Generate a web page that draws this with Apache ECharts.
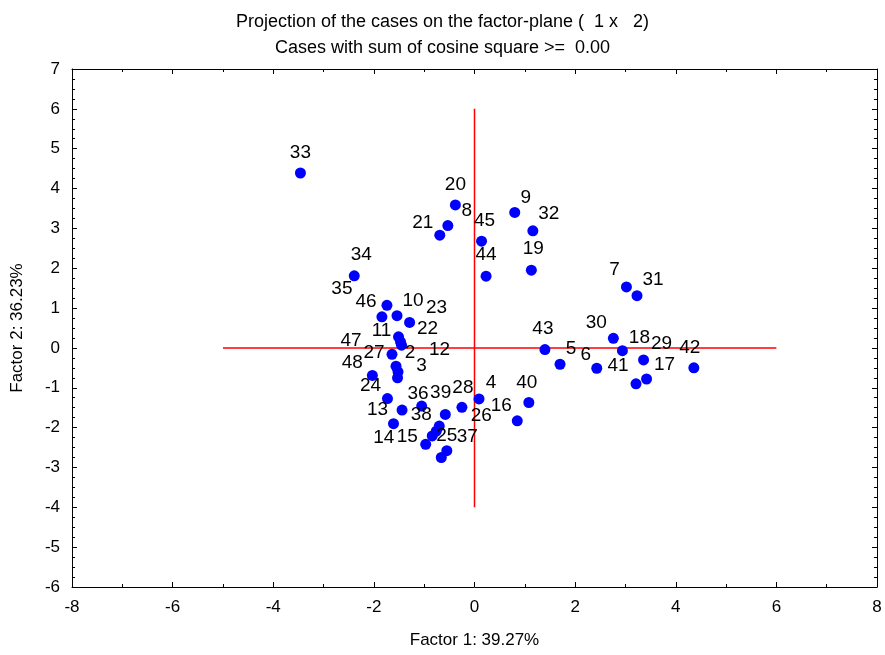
<!DOCTYPE html>
<html>
<head>
<meta charset="utf-8">
<script src="https://cdn.jsdelivr.net/npm/echarts@6/dist/echarts.min.js"></script>
<style>
  html, body { margin: 0; padding: 0; background: #fff; }
  #chart { width: 885px; height: 655px; }
</style>
</head>
<body>
<div id="chart"></div>
<script>
// Case numbers and their coordinates on the first two factors
const caseIds = [1, 2, 3, 4, 5, 6, 7, 8, 9, 10, 11, 12, 13, 14, 15, 16, 17, 18, 19, 20, 21, 22, 23, 24,
                 25, 26, 27, 28, 29, 30, 31, 32, 33, 34, 35, 36, 37, 38, 39, 40, 41, 42, 43, 44, 45, 46, 47, 48];
const factor1 = [-0.76, -1.52, -1.53, 0.09, 1.70, 2.43, 3.02, -0.53, 0.80, -1.54, -1.51, -1.45,
                 -1.61, -0.97, -0.84, 0.85, 3.42, 2.94, 1.13, -0.38, -0.69, -1.47, -1.29, -1.73,
                 -0.55, -0.58, -1.56, -0.25, 3.36, 2.76, 3.23, 1.16, -3.46, -2.39, -1.84, -1.44,
                 -0.66, -0.70, -1.05, 1.08, 3.21, 4.36, 1.40, 0.23, 0.14, -1.74, -1.64, -2.03];
const factor2 = [-2.09, -0.60, -0.75, -1.28, -0.41, -0.51, 1.53, 3.07, 3.40, 0.81, 0.28, 0.07,
                 -1.90, -2.42, -2.21, -1.83, -0.78, -0.07, 1.95, 3.59, 2.83, 0.15, 0.64, -1.27,
                 -2.58, -1.67, -0.46, -1.49, -0.30, 0.24, 1.31, 2.94, 4.39, 1.81, 0.78, -1.56,
                 -2.75, -1.96, -1.46, -1.37, -0.90, -0.50, -0.04, 1.80, 2.68, 1.07, -0.16, -0.69];
// Cases whose number is not printed (covered by neighbours)
const hiddenLabels = [1];

// Reference axes drawn through the origin
const hAxisX = [-5, 6];
const vAxisY = [-4, 6];

// Axis ranges and steps
const xRange = [-8, 8], xStep = 2;
const yRange = [-6, 7], yStep = 1;

const titleLines = ['Projection of the cases on the factor-plane (  1 x   2)',
                    'Cases with sum of cosine square >=  0.00'];
const xName = 'Factor 1: 39.27%';
const yName = 'Factor 2: 36.23%';

// Label placement: pixel shift of each case number's centre from its point
const labelShift = {
  2: [12, -19], 3: [24, -12], 4: [12, -16], 5: [11, -15], 6: [-11, -13], 7: [-12, -17],
  8: [19, -15], 9: [11, -15], 10: [16, -15], 11: [-17, -6], 12: [38, 5], 13: [-16, -14],
  14: [-42, -7], 15: [-25, 1], 16: [-16, -15], 17: [18, -14], 18: [17, -13], 19: [2, -21],
  20: [0, -20], 21: [-17, -12], 22: [27, -13], 23: [27, -15], 24: [-17, -13], 25: [0, -15],
  26: [36, 1], 27: [-22, -13], 28: [1, -20], 29: [18, -16], 30: [-17, -16], 31: [16, -16],
  32: [16, -17], 33: [0, -20], 34: [7, -21], 35: [-40, -28], 36: [16, -16], 37: [26, -21],
  38: [-18, -11], 39: [19, -13], 40: [-2, -20], 41: [-18, -18], 42: [-4, -20], 43: [-2, -21],
  44: [0, -21], 45: [3, -20], 46: [-21, -4], 47: [-41, -14], 48: [-20, -13]
};

const FONT = '"Liberation Sans", Arial, sans-serif';
const DOT = 11;

const points = caseIds.map((id, i) => {
  const s = labelShift[id] || [0, -20];
  return {
    name: String(id),
    value: [factor1[i], factor2[i]],
    label: hiddenLabels.includes(id)
      ? { show: false }
      : { show: true, position: [DOT / 2 + s[0], DOT / 2 + s[1]] }
  };
});

const frameAxis = (extra) => Object.assign({
  type: 'value',
  axisLine: { show: true, onZero: false, lineStyle: { color: '#000', width: 1 } },
  axisTick: { show: true, inside: true, length: 5, lineStyle: { color: '#000' } },
  splitLine: { show: false },
  axisLabel: { show: false }
}, extra);

const chart = echarts.init(document.getElementById('chart'), null, { renderer: 'canvas' });
chart.setOption({
  backgroundColor: '#fff',
  animation: false,
  title: {
    text: titleLines.join('\n'),
    left: 'center',
    top: 4,
    textStyle: { fontFamily: FONT, fontSize: 18, fontWeight: 'normal', color: '#000', lineHeight: 26 }
  },
  grid: { left: 72, right: 8, top: 69, bottom: 68, containLabel: false },
  xAxis: [
    frameAxis({
      min: xRange[0], max: xRange[1], interval: xStep, position: 'bottom',
      minorTick: { show: true, splitNumber: 2, length: 3, lineStyle: { color: '#000' } },
      axisLabel: { show: true, fontFamily: FONT, fontSize: 17, color: '#000', margin: 12 },
      name: xName, nameLocation: 'middle', nameGap: 45,
      nameTextStyle: { fontFamily: FONT, fontSize: 17, color: '#000' }
    }),
    frameAxis({
      min: xRange[0], max: xRange[1], interval: xStep, position: 'top',
      minorTick: { show: true, splitNumber: 2, length: 3, lineStyle: { color: '#000' } }
    })
  ],
  yAxis: [
    frameAxis({
      min: yRange[0], max: yRange[1], interval: yStep, position: 'left',
      minorTick: { show: true, splitNumber: 4, length: 3, lineStyle: { color: '#000' } },
      axisLabel: { show: true, fontFamily: FONT, fontSize: 17, color: '#000', margin: 12 },
      name: yName, nameLocation: 'middle', nameGap: 46, nameRotate: 90,
      nameTextStyle: { fontFamily: FONT, fontSize: 17, color: '#000' }
    }),
    frameAxis({
      min: yRange[0], max: yRange[1], interval: yStep, position: 'right',
      minorTick: { show: true, splitNumber: 4, length: 3, lineStyle: { color: '#000' } }
    })
  ],
  series: [
    {
      type: 'line',
      data: hAxisX.map(x => [x, 0]),
      symbol: 'none',
      lineStyle: { color: '#ff0000', width: 1.5 },
      silent: true, z: 1
    },
    {
      type: 'line',
      data: vAxisY.map(y => [0, y]),
      symbol: 'none',
      lineStyle: { color: '#ff0000', width: 1.5 },
      silent: true, z: 1
    },
    {
      type: 'scatter',
      data: points,
      symbol: 'circle',
      symbolSize: DOT,
      itemStyle: { color: '#0000ff', opacity: 1 },
      label: {
        formatter: p => p.name,
        fontFamily: FONT,
        fontSize: 19,
        color: '#000',
        opacity: 1,
        textBorderWidth: 0,
        align: 'center',
        verticalAlign: 'middle'
      },
      z: 3
    }
  ]
});
</script>
</body>
</html>
